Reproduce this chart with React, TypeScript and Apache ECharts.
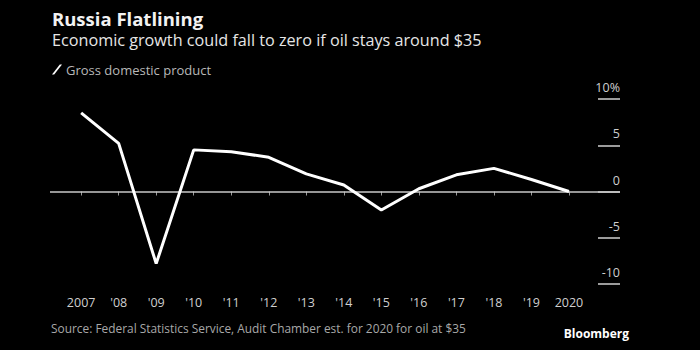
import React, { useEffect, useRef } from "react";
import * as echarts from "echarts";

const years = [2007, 2008, 2009, 2010, 2011, 2012, 2013, 2014, 2015, 2016, 2017, 2018, 2019, 2020];
const xLabels = ["2007", "'08", "'09", "'10", "'11", "'12", "'13", "'14", "'15", "'16", "'17", "'18", "'19", "2020"];
const gdp = [8.5, 5.2, -7.8, 4.5, 4.3, 3.7, 1.9, 0.7, -2.0, 0.3, 1.8, 2.5, 1.3, 0.0];
const yTicks = [-10, -5, 0, 5, 10];

const FONT = "'Open Sans', 'DejaVu Sans', sans-serif";

export default function App() {
  const ref = useRef<HTMLDivElement>(null);
  useEffect(() => {
    document.body.style.margin = "0";
    document.body.style.background = "#000";
    const chart = echarts.init(ref.current!, null, { renderer: "svg" });
    chart.setOption({
      animation: false,
      backgroundColor: "#000",
      textStyle: { fontFamily: FONT },
      title: [
        {
          text: "Russia Flatlining",
          left: 52,
          top: 8,
          padding: 0,
          textStyle: { color: "#f2f2f2", fontSize: 18.5, fontWeight: "bold", fontFamily: FONT, lineHeight: 20 },
        },
        {
          text: "Economic growth could fall to zero if oil stays around $35",
          left: 52,
          top: 31,
          padding: 0,
          textStyle: { color: "#e6e6e6", fontSize: 16.2, fontWeight: "normal", fontFamily: FONT, lineHeight: 18 },
        },
        {
          text: "Source: Federal Statistics Service, Audit Chamber est. for 2020 for oil at $35",
          left: 51,
          top: 322,
          padding: 0,
          textStyle: { color: "#a8a8a8", fontSize: 11.9, fontWeight: "normal", fontFamily: FONT },
        },
        {
          text: "Bloomberg",
          right: 71,
          top: 327,
          padding: 0,
          textStyle: { color: "#ffffff", fontSize: 12, fontWeight: "bold", fontFamily: FONT },
        },
      ],
      legend: {
        left: 52,
        top: 63,
        padding: 0,
        icon: "path://M0,10 L2.2,10 L10,0 L7.8,0 Z",
        itemWidth: 10,
        itemHeight: 11,
        itemGap: 6,
        textStyle: { color: "#b8b8b8", fontSize: 13, fontFamily: FONT, padding: [0, 0, 0, -1] },
        data: ["Gross domestic product"],
      },
      grid: { left: 50, right: 80, top: 99, bottom: 66, outerBoundsMode: "none" },
      xAxis: {
        type: "value",
        min: 2006.17,
        max: 2021.36,
        axisLine: { show: false },
        splitLine: { show: false },
        axisTick: {
          show: true,
          customValues: years,
          length: 4,
          lineStyle: { color: "#999", width: 1 },
        },
        axisLabel: {
          customValues: years,
          margin: 12,
          color: "#cfcfcf",
          fontSize: 12.5,
          fontFamily: FONT,
          formatter: (v: number) => xLabels[years.indexOf(v)] ?? "",
        },
      },
      yAxis: {
        type: "value",
        position: "right",
        min: -10,
        max: 10,
        interval: 5,
        axisLine: { show: false },
        splitLine: { show: false },
        axisTick: {
          show: true,
          inside: true,
          length: 22,
          lineStyle: { color: "#cfcfcf", width: 1.5 },
        },
        axisLabel: {
          inside: true,
          margin: 0,
          align: "right",
          verticalAlign: "bottom",
          padding: [0, 0, 5, 0],
          color: "#cfcfcf",
          fontSize: 12.5,
          fontFamily: FONT,
          formatter: (v: number) => (v === yTicks[yTicks.length - 1] ? `${v}%` : `${v}`),
        },
      },
      series: [
        {
          name: "Gross domestic product",
          type: "line",
          data: years.map((y, i) => [y, gdp[i]]),
          symbol: "none",
          color: "#ffffff",
          lineStyle: { color: "#ffffff", width: 3 },
          z: 3,
          markLine: {
            silent: true,
            symbol: "none",
            label: { show: false },
            lineStyle: { color: "#c8c8c8", width: 1.5, type: "solid" },
            data: [{ yAxis: 0 }],
            z: 1,
          },
        },
      ],
    });
    return () => chart.dispose();
  }, []);
  return (
    <div
      ref={ref}
      style={{ position: "absolute", left: 0, top: 0, width: 700, height: 350, background: "#000" }}
    />
  );
}
